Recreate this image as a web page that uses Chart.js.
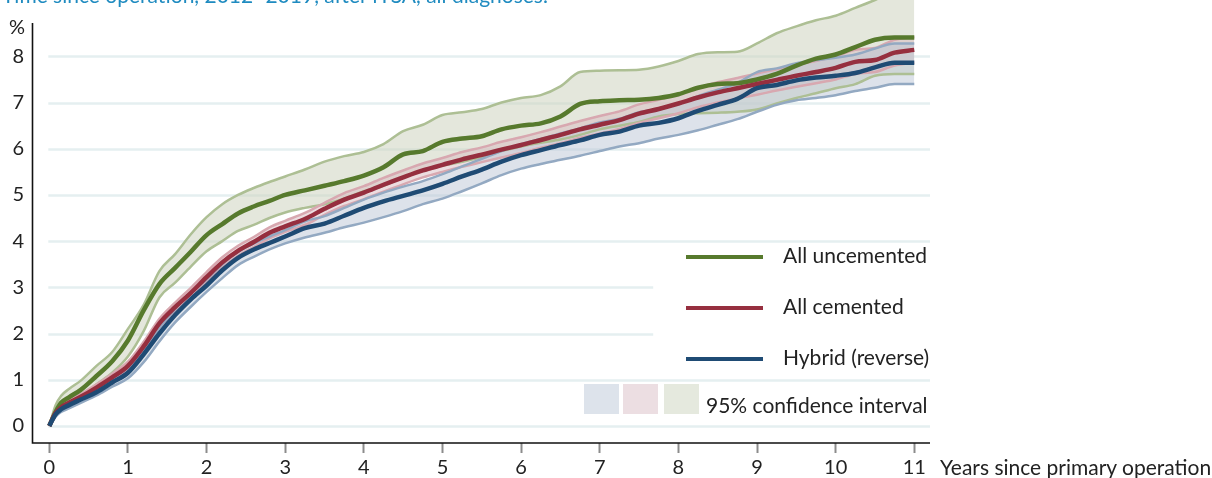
<!DOCTYPE html>
<html lang="en">
<head>
  <meta charset="UTF-8" />
  <title>Cumulative revision rate</title>
  <script src="https://cdn.jsdelivr.net/npm/chart.js"></script>
  <style>
    body { margin: 0; background: #fff; font-family: 'Lato', sans-serif; color: #222; }
    #wrap { position: relative; width: 1212px; height: 478px; overflow: hidden; }
    canvas { position: absolute; left: 0; top: 0; }
    .txt { position: absolute; white-space: nowrap; font-size: 21px; line-height: 24px; }
    .title { position: absolute; left: 2px; top: -16px; font-size: 21px; line-height: 21px;
             color: #1f8bc0; white-space: nowrap; }
    .lline { position: absolute; left: 686px; width: 77px; height: 4px; }
    .swatch { position: absolute; top: 384px; width: 35px; height: 30px; }
  </style>
</head>
<body>
<div id="wrap">
  <canvas id="chart" width="1212" height="478"></canvas>
  <div class="title">Time since operation, 2012–2019, after rTSA, all diagnoses.</div>
  <div class="txt" style="left:9px; top:14px; font-size:20px;">%</div>
  <div class="txt" style="left:940px; top:455px;">Years since primary operation</div>

  <div class="lline" style="top:255px; background:#577a2d;"></div>
  <div class="txt" style="left:783px; top:243px;">All uncemented</div>
  <div class="lline" style="top:306px; background:#962f3f;"></div>
  <div class="txt" style="left:783px; top:294px;">All cemented</div>
  <div class="lline" style="top:357px; background:#1f4b74;"></div>
  <div class="txt" style="left:783px; top:345px;">Hybrid (reverse)</div>

  <div class="swatch" style="left:584px; background:#dde3eb;"></div>
  <div class="swatch" style="left:623px; background:#ecdee2;"></div>
  <div class="swatch" style="left:664px; background:#e5e9de;"></div>
  <div class="txt" style="left:706px; top:393px;">95% confidence interval</div>
</div>

<script>
  // years since primary operation (shared grid for all curves)
  const years = [0, 0.08, 0.15, 0.25, 0.4, 0.6, 0.8,
    1.0, 1.2, 1.4, 1.6, 1.8, 2.0, 2.2, 2.4, 2.6, 2.8,
    3.0, 3.25, 3.5, 3.75, 4.0, 4.25, 4.5, 4.75, 5.0, 5.25, 5.5, 5.75,
    6.0, 6.25, 6.5, 6.75, 7.0, 7.25, 7.5, 7.75, 8.0, 8.25, 8.5, 8.75,
    9.0, 9.25, 9.5, 9.75, 10.0, 10.25, 10.5, 10.75, 11.0];

  const uncemented = [0, 0.3, 0.5, 0.62, 0.78, 1.08, 1.4,
    1.85, 2.5, 3.07, 3.42, 3.77, 4.13, 4.37, 4.6, 4.75, 4.87,
    5.0, 5.1, 5.2, 5.3, 5.42, 5.6, 5.88, 5.95, 6.15, 6.22, 6.27, 6.42,
    6.5, 6.55, 6.7, 6.97, 7.03, 7.05, 7.06, 7.1, 7.18, 7.32, 7.4, 7.42,
    7.5, 7.62, 7.8, 7.95, 8.04, 8.2, 8.36, 8.41, 8.41];
  const uncementedLow = [0, 0.25, 0.4, 0.5, 0.63, 0.9, 1.15,
    1.5, 2.05, 2.78, 3.1, 3.45, 3.78, 4.0, 4.22, 4.35, 4.5,
    4.62, 4.72, 4.8, 4.92, 5.08, 5.2, 5.38, 5.52, 5.63, 5.72, 5.82, 5.95,
    6.05, 6.13, 6.2, 6.3, 6.42, 6.5, 6.58, 6.7, 6.75, 6.77, 6.78, 6.8,
    6.85, 6.98, 7.1, 7.2, 7.31, 7.4, 7.58, 7.62, 7.62];
  const uncementedHigh = [0, 0.45, 0.65, 0.8, 0.98, 1.3, 1.6,
    2.1, 2.62, 3.35, 3.72, 4.15, 4.52, 4.8, 5.0, 5.15, 5.28,
    5.4, 5.55, 5.72, 5.84, 5.93, 6.1, 6.38, 6.52, 6.73, 6.79, 6.86, 7.0,
    7.1, 7.16, 7.35, 7.66, 7.69, 7.7, 7.71, 7.78, 7.9, 8.05, 8.09, 8.1,
    8.28, 8.5, 8.65, 8.78, 8.88, 9.05, 9.22, 9.4, 9.4];

  const cemented = [0, 0.28, 0.4, 0.5, 0.63, 0.83, 1.05,
    1.3, 1.72, 2.22, 2.57, 2.88, 3.22, 3.54, 3.79, 3.98, 4.18,
    4.32, 4.48, 4.7, 4.9, 5.05, 5.22, 5.38, 5.53, 5.65, 5.77, 5.87, 5.98,
    6.08, 6.19, 6.3, 6.42, 6.52, 6.62, 6.76, 6.86, 6.98, 7.11, 7.22, 7.31,
    7.4, 7.49, 7.58, 7.66, 7.75, 7.88, 7.92, 8.08, 8.14];
  const cementedLow = [0, 0.24, 0.35, 0.45, 0.57, 0.76, 0.97,
    1.21, 1.62, 2.12, 2.47, 2.77, 3.11, 3.43, 3.68, 3.87, 4.06,
    4.2, 4.35, 4.57, 4.76, 4.91, 5.07, 5.23, 5.38, 5.5, 5.61, 5.71, 5.81,
    5.91, 6.02, 6.12, 6.24, 6.33, 6.43, 6.56, 6.66, 6.77, 6.9, 7.0, 7.09,
    7.17, 7.26, 7.34, 7.42, 7.5, 7.62, 7.66, 7.8, 7.86];
  const cementedHigh = [0, 0.32, 0.45, 0.55, 0.69, 0.9, 1.13,
    1.39, 1.82, 2.32, 2.67, 2.99, 3.33, 3.65, 3.9, 4.09, 4.3,
    4.44, 4.61, 4.83, 5.04, 5.19, 5.37, 5.53, 5.68, 5.8, 5.93, 6.03, 6.15,
    6.25, 6.36, 6.48, 6.6, 6.71, 6.81, 6.96, 7.06, 7.19, 7.32, 7.44, 7.53,
    7.63, 7.72, 7.82, 7.9, 8.0, 8.14, 8.18, 8.36, 8.42];

  const hybrid = [0, 0.25, 0.36, 0.45, 0.57, 0.73, 0.94,
    1.15, 1.55, 2.0, 2.4, 2.74, 3.04, 3.37, 3.64, 3.82, 3.96,
    4.1, 4.28, 4.38, 4.55, 4.72, 4.86, 4.98, 5.1, 5.24, 5.4, 5.55, 5.72,
    5.86, 5.97, 6.08, 6.18, 6.3, 6.37, 6.5, 6.56, 6.66, 6.82, 6.95, 7.08,
    7.31, 7.38, 7.48, 7.54, 7.58, 7.64, 7.76, 7.86, 7.86];
  const hybridLow = [0, 0.2, 0.3, 0.38, 0.5, 0.66, 0.85,
    1.03, 1.38, 1.83, 2.24, 2.58, 2.9, 3.2, 3.48, 3.66, 3.82,
    3.95, 4.08, 4.18, 4.3, 4.4, 4.52, 4.65, 4.8, 4.92, 5.08, 5.25, 5.43,
    5.57, 5.67, 5.76, 5.85, 5.95, 6.05, 6.12, 6.22, 6.3, 6.4, 6.52, 6.64,
    6.8, 6.95, 7.05, 7.1, 7.16, 7.25, 7.32, 7.4, 7.4];
  const hybridHigh = [0, 0.3, 0.42, 0.52, 0.64, 0.81, 1.03,
    1.26, 1.67, 2.13, 2.53, 2.87, 3.17, 3.5, 3.77, 3.95, 4.1,
    4.24, 4.43, 4.54, 4.72, 4.9, 5.05, 5.18, 5.3, 5.45, 5.62, 5.78, 5.95,
    6.1, 6.21, 6.33, 6.44, 6.57, 6.65, 6.79, 6.86, 6.97, 7.14, 7.28, 7.42,
    7.66, 7.74, 7.85, 7.92, 7.97, 8.04, 8.17, 8.28, 8.28];

  const xTicks = [0, 1, 2, 3, 4, 5, 6, 7, 8, 9, 10, 11];
  const yTicks = [0, 1, 2, 3, 4, 5, 6, 7, 8];
  const shortRows = [2, 3];   // gridlines that stop before the legend

  const pts = ys => years.map((x, i) => ({ x: x, y: ys[i] }));

  function mainLine(data, color) {
    return { data: pts(data), borderColor: color, borderWidth: 4.5, fill: false };
  }
  function ciLine(data, color, fill, bg) {
    return { data: pts(data), borderColor: color, borderWidth: 2.5, fill: fill, backgroundColor: bg };
  }

  const decor = {
    id: 'decor',
    beforeDraw(chart) {
      const { ctx, chartArea, scales } = chart;
      const x = scales.x, y = scales.y;
      ctx.save();
      ctx.strokeStyle = '#e5eff0';
      ctx.lineWidth = 2.5;
      yTicks.forEach(v => {
        const py = Math.round(y.getPixelForValue(v)) + 0.5;
        const end = shortRows.includes(v) ? x.getPixelForValue(7.68) : chartArea.right;
        ctx.beginPath();
        ctx.moveTo(x.getPixelForValue(0) - 1, py);
        ctx.lineTo(end, py);
        ctx.stroke();
      });
      ctx.restore();
    },
    afterDraw(chart) {
      const { ctx, chartArea, scales } = chart;
      ctx.save();
      ctx.strokeStyle = '#111';
      ctx.lineWidth = 1.6;
      ctx.beginPath();
      ctx.moveTo(chartArea.left + 0.5, scales.y.getPixelForValue(8.72));
      ctx.lineTo(chartArea.left + 0.5, chartArea.bottom);
      ctx.lineTo(chartArea.right, chartArea.bottom);
      ctx.stroke();
      ctx.restore();
    }
  };

  Chart.defaults.font.family = 'Lato';
  Chart.defaults.color = '#222';

  new Chart(document.getElementById('chart').getContext('2d'), {
    type: 'line',
    data: {
      datasets: [
        mainLine(hybrid, '#1f4b74'),
        mainLine(cemented, '#962f3f'),
        mainLine(uncemented, '#577a2d'),
        ciLine(hybridLow, '#93a9c2', false),
        ciLine(hybridHigh, '#93a9c2', 3, 'rgba(187,197,213,0.5)'),
        ciLine(cementedLow, '#d8a8b0', false),
        ciLine(cementedHigh, '#d8a8b0', 5, 'rgba(217,187,193,0.5)'),
        ciLine(uncementedLow, '#adbf94', false),
        ciLine(uncementedHigh, '#adbf94', 7, 'rgba(205,211,191,0.55)')
      ]
    },
    options: {
      responsive: false,
      animation: false,
      devicePixelRatio: 1,
      layout: { padding: { left: 0, right: 282, top: 0, bottom: 0 } },
      elements: { point: { radius: 0 }, line: { cubicInterpolationMode: 'monotone' } },
      plugins: {
        legend: { display: false },
        tooltip: { enabled: false },
        filler: { drawTime: 'beforeDatasetsDraw' }
      },
      scales: {
        x: {
          type: 'linear',
          min: -0.22,
          max: 11.2,
          afterBuildTicks: s => { s.ticks = xTicks.map(v => ({ value: v })); },
          afterFit: s => { s.height = 35; s.paddingLeft = 0; s.paddingRight = 0; },
          ticks: { font: { size: 20 }, padding: 3, maxRotation: 0, autoSkip: false },
          grid: { drawOnChartArea: false, drawTicks: true, tickLength: 10, tickColor: '#8c8c8c', tickWidth: 2 },
          border: { display: false }
        },
        y: {
          type: 'linear',
          min: -0.37,
          max: 9.22,
          afterBuildTicks: s => { s.ticks = yTicks.map(v => ({ value: v })); },
          afterFit: s => { s.width = 32; s.paddingTop = 0; s.paddingBottom = 0; },
          ticks: { font: { size: 20 }, padding: 8 },
          grid: { display: false, drawTicks: false },
          border: { display: false }
        }
      }
    },
    plugins: [decor]
  });
</script>
</body>
</html>
